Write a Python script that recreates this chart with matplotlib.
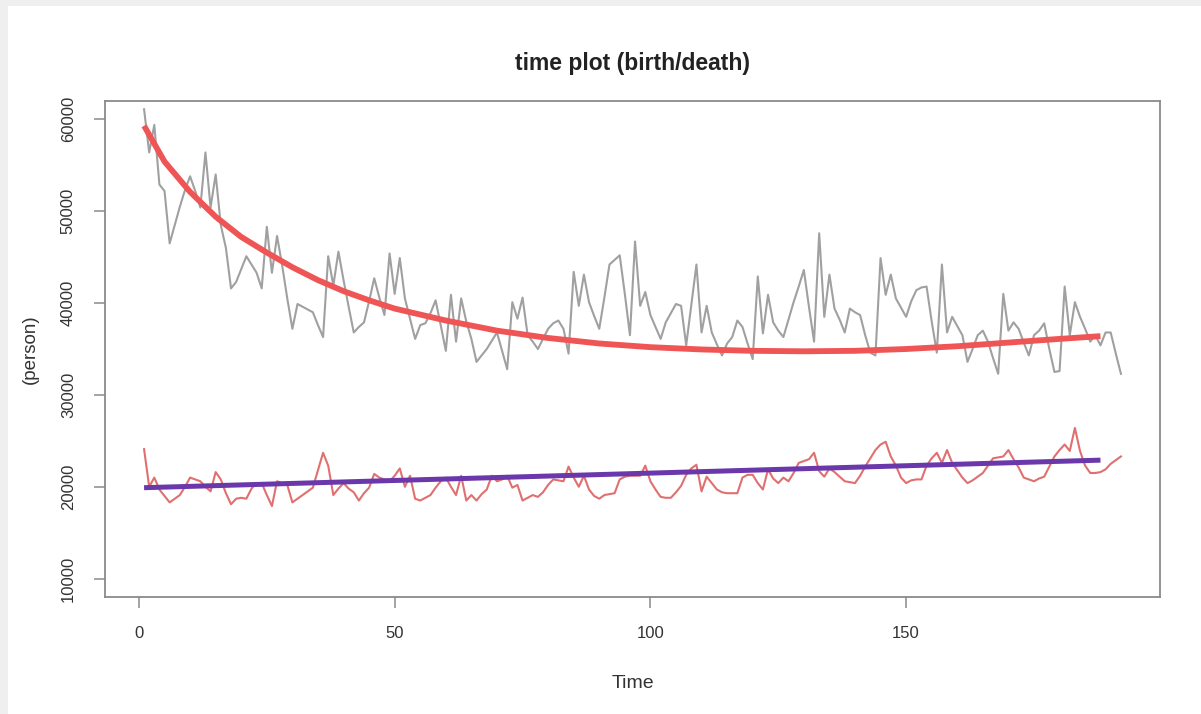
import matplotlib
matplotlib.use("Agg")
from matplotlib import pyplot as plt
from matplotlib.patches import Rectangle
import numpy as np

# births per period (gray line)
birth = [
    61100, 56400, 59400, 52900, 52200, 46500, 48500, 50500, 52300, 53800,
    52200, 50400, 56400, 50400, 54000, 48500, 46000, 41600, 42300, 43700,
    45100, 44200, 43300, 41600, 48300, 43300, 47300, 44100, 40500, 37200,
    39900, 39600, 39300, 39000, 37600, 36300, 45100, 41900, 45600, 42500,
    39600, 36800, 37400, 37900, 40200, 42700, 40600, 38700, 45400, 41000,
    44900, 40500, 38300, 36100, 37600, 37800, 38900, 40300, 37600, 34800,
    40900, 35800, 40500, 38000, 36100, 33600, 34300, 35000, 35900, 36800,
    34800, 32800, 40100, 38300, 40600, 36500, 35800, 35000, 36100, 37200,
    37800, 38100, 37200, 34500, 43400, 39700, 43100, 40100, 38600, 37200,
    40600, 44200, 44700, 45200, 41000, 36500, 46700, 39700, 41200, 38700,
    37400, 36100, 37900, 38900, 39900, 39700, 35400, 39800, 44200, 36800,
    39700, 36800, 35500, 34300, 35600, 36300, 38100, 37400, 35600, 33900,
    42900, 36700, 40900, 37900, 37000, 36300, 38200, 40100, 41800, 43600,
    39600, 35800, 47600, 38500, 43100, 39400, 38200, 36800, 39400, 39000,
    38700, 36500, 34600, 34300, 44900, 40900, 43100, 40500, 39500, 38500,
    40200, 41400, 41700, 41800, 38000, 34600, 44200, 36800, 38500, 37500,
    36500, 33600, 35000, 36500, 37000, 35800, 34000, 32300, 41000, 37000,
    37900, 37200, 35700, 34300, 36500, 37000, 37800, 35000, 32500, 32600,
    41800, 36500, 40100, 38500, 37200, 35800, 36500, 35400, 36800, 36800,
    34500, 32300,
]

# deaths per period (thin red line)
death = [
    24100, 20000, 21000, 19700, 19000, 18300, 18700, 19100, 20000, 21000,
    20800, 20600, 20000, 19500, 21600, 20800, 19300, 18100, 18700, 18800,
    18700, 19800, 20400, 20400, 19100, 17900, 20600, 20400, 20200, 18300,
    18700, 19100, 19500, 19900, 21800, 23700, 22300, 19100, 19800, 20400,
    19800, 19400, 18500, 19300, 19900, 21400, 21000, 20800, 20600, 21200,
    22000, 20000, 21200, 18700, 18500, 18800, 19100, 19900, 20600, 21000,
    20000, 19100, 21200, 18500, 19100, 18500, 19200, 19700, 21200, 20600,
    20800, 21200, 19900, 20200, 18500, 18800, 19100, 18900, 19400, 20200,
    20800, 20700, 20600, 22200, 21000, 20000, 21200, 19700, 19000, 18700,
    19100, 19200, 19300, 20800, 21100, 21200, 21200, 21200, 22300, 20600,
    19700, 18900, 18800, 18800, 19400, 20100, 21300, 22000, 22400, 19500,
    21100, 20400, 19700, 19400, 19300, 19300, 19300, 21000, 21300, 21300,
    20400, 19700, 21900, 20900, 20400, 21000, 20600, 21500, 22600, 22800,
    23000, 23700, 21700, 21100, 22000, 21600, 21100, 20600, 20500, 20400,
    21200, 22200, 23100, 24000, 24600, 24900, 23300, 22300, 21000, 20400,
    20700, 20800, 20800, 22300, 23100, 23700, 22600, 24000, 22600, 21800,
    21000, 20400, 20700, 21100, 21500, 22300, 23100, 23200, 23300, 24000,
    23000, 22100, 21000, 20800, 20600, 20900, 21100, 22200, 23300, 24000,
    24600, 23900, 26400, 23900, 22300, 21500, 21500, 21600, 21900, 22500,
    22900, 23300,
]

birth_trend_t = [1, 5, 10, 15, 20, 25, 30, 35, 40, 45, 50, 60, 70, 80, 90,
                 100, 110, 120, 130, 140, 150, 160, 170, 180, 188]
birth_trend = [59300, 55400, 52100, 49400, 47200, 45500, 43900, 42500, 41300,
               40300, 39400, 38100, 37000, 36200, 35600, 35200, 34950, 34800,
               34750, 34800, 35000, 35300, 35700, 36100, 36400]

# linear trend for deaths
death_trend_t = [1, 188]
death_trend = [19900, 22900]

x_ticks = [0, 50, 100, 150]
y_ticks = [10000, 20000, 30000, 40000, 50000, 60000]

plt.rcParams['font.family'] = ['Liberation Sans', 'DejaVu Sans']

fig = plt.figure(figsize=(12.01, 7.14), dpi=100, facecolor='#efefef')
fig.patches.append(Rectangle((8 / 1201, 0), 1, 1 - 6 / 714, transform=fig.transFigure,
                             facecolor='white', edgecolor='none', zorder=-1))

ax = fig.add_axes([105 / 1201, 1 - 597 / 714, 1055 / 1201, 496 / 714])
t = np.arange(1, len(birth) + 1)

ax.plot(t, birth, color='#a0a0a0', lw=1.5)
ax.plot(t, death, color='#e07070', lw=1.5)
ax.plot(birth_trend_t, birth_trend, color='#f05555', lw=4.2, solid_capstyle='butt')
ax.plot(death_trend_t, death_trend, color='#6a38aa', lw=3.6, solid_capstyle='butt')

ax.set_xlim(-6.64, 199.64)
ax.set_ylim(8000, 62000)
ax.set_xticks(x_ticks)
ax.set_yticks(y_ticks)
ax.set_xticklabels([str(v) for v in x_ticks])
ax.set_yticklabels([str(v) for v in y_ticks], rotation=90, va='center')

for s in ax.spines.values():
    s.set_color('#8a8a8a')
    s.set_linewidth(1.3)
ax.tick_params(axis='both', length=8, width=1.1, color='#8a8a8a',
               labelsize=12, labelcolor='#333333')
ax.tick_params(axis='x', pad=13)
ax.tick_params(axis='y', pad=13)

ax.set_title('time plot (birth/death)', fontsize=16.5, fontweight='bold',
             color='#222222', pad=22)
ax.set_xlabel('Time', fontsize=14, color='#333333', labelpad=24)
ax.set_ylabel('(person)', fontsize=13.5, color='#333333', labelpad=16)

fig.savefig('out.png', dpi=100, facecolor=fig.get_facecolor())
